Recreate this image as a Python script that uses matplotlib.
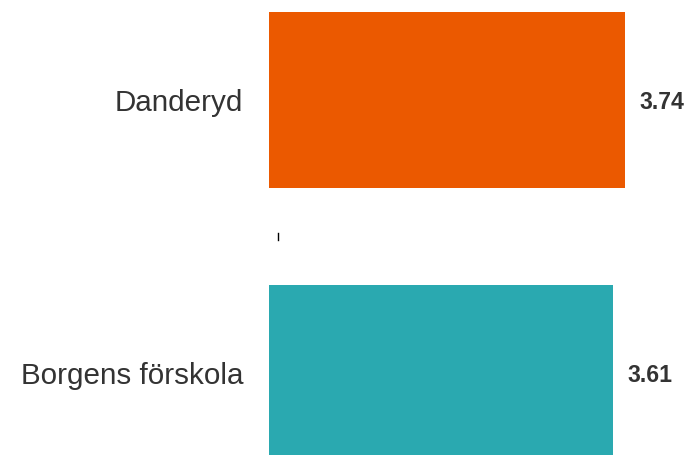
import matplotlib.pyplot as plt

categories = ["Borgens förskola", "Danderyd"]
values = [3.61, 3.74]
colors = ["#2aa9b0", "#eb5900"]

plt.rcParams['font.family'] = ['Liberation Sans', 'DejaVu Sans']

fig = plt.figure(figsize=(6.91, 4.55), dpi=100)
ax = fig.add_axes([269/691, 0, 1 - 269/691, 1])

ypos = [0, 1]
ax.barh(ypos, values, height=0.645, color=colors)

ax.set_xlim(0, 422/95.2)
ax.set_ylim(-0.30, 1.366)

# value labels
for y, v in zip(ypos, values):
    ax.text(v + 0.155, y, f"{v:.2f}", ha='left', va='center_baseline',
            fontsize=16.6, fontweight='bold', color='#333333')

ax.set_yticks(ypos)
ax.set_yticklabels(categories, fontsize=21.3, color='#333333')
ax.tick_params(axis='y', length=0, pad=18.5)
ax.set_xticks([])

# small stray tick between the bars
ax.plot([0.095, 0.095], [0.487, 0.513], color='black', linewidth=1)

for s in ax.spines.values():
    s.set_visible(False)

plt.savefig("out.png", dpi=100)
